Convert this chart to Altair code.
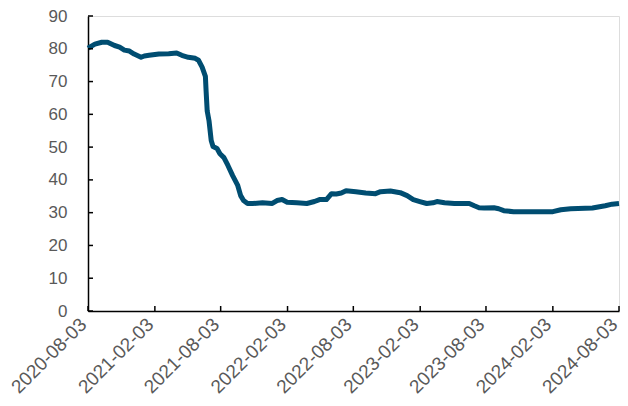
import altair as alt
import pandas as pd

dates = [
    "2020-08-03", "2020-08-22", "2020-09-10", "2020-09-26", "2020-10-15", "2020-10-29",
    "2020-11-11", "2020-11-25", "2020-12-08", "2020-12-27", "2021-01-05", "2021-01-18",
    "2021-02-14", "2021-03-13", "2021-04-04", "2021-04-18", "2021-05-06", "2021-05-25",
    "2021-06-03", "2021-06-13", "2021-06-22", "2021-06-24", "2021-06-27", "2021-07-02",
    "2021-07-08", "2021-07-13", "2021-07-24", "2021-08-01", "2021-08-12", "2021-08-23",
    "2021-09-05", "2021-09-19", "2021-09-27", "2021-10-05", "2021-10-16", "2021-10-30",
    "2021-11-26", "2021-12-23", "2022-01-05", "2022-01-19", "2022-02-02", "2022-03-01",
    "2022-03-28", "2022-04-18", "2022-05-02", "2022-05-21", "2022-06-04", "2022-06-17",
    "2022-07-01", "2022-07-14", "2022-08-10", "2022-09-06", "2022-10-03", "2022-10-17",
    "2022-11-13", "2022-12-10", "2022-12-29", "2023-01-15", "2023-02-02", "2023-02-21",
    "2023-03-10", "2023-03-21", "2023-04-11", "2023-05-08", "2023-06-18", "2023-07-02",
    "2023-07-15", "2023-07-29", "2023-08-25", "2023-09-07", "2023-09-21", "2023-10-18",
    "2023-12-11", "2024-02-03", "2024-02-25", "2024-03-23", "2024-05-22", "2024-06-26",
    "2024-07-15", "2024-08-03",
]
values = [
    80.2, 81.4, 82.0, 82.0, 81.0, 80.5,
    79.6, 79.3, 78.4, 77.4, 77.8, 78.0,
    78.4, 78.5, 78.7, 78.0, 77.4, 77.1,
    76.5, 74.4, 71.6, 67.0, 61.0, 58.0,
    52.0, 50.2, 49.6, 48.0, 46.8, 44.4,
    41.3, 38.3, 35.2, 33.7, 32.8, 32.8,
    33.0, 32.8, 33.7, 34.0, 33.2, 33.0,
    32.8, 33.4, 34.0, 34.0, 35.8, 35.7,
    36.0, 36.7, 36.4, 36.0, 35.8, 36.4,
    36.6, 36.1, 35.2, 34.0, 33.4, 32.8,
    33.0, 33.4, 33.0, 32.8, 32.8, 32.1,
    31.5, 31.4, 31.5, 31.2, 30.6, 30.3,
    30.3, 30.3, 30.9, 31.2, 31.4, 32.1,
    32.6, 32.8,
]
x_ticks = ["2020-08-03", "2021-02-03", "2021-08-03", "2022-02-03", "2022-08-03",
           "2023-02-03", "2023-08-03", "2024-02-03", "2024-08-03"]
y_ticks = [0, 10, 20, 30, 40, 50, 60, 70, 80, 90]

W, H = 531, 295
FONT = "Liberation Sans"
GREY = "#595959"


def dt(s):
    y, m, d = (int(p) for p in s.split("-"))
    return alt.DateTime(year=y, month=m, date=d, utc=True)


df = pd.DataFrame({"date": dates, "value": values})
xt = pd.DataFrame({"date": x_ticks})
yt = pd.DataFrame({"value": y_ticks})

xscale = alt.Scale(type="utc", domain=[dt(x_ticks[0]), dt(x_ticks[-1])], nice=False)
yscale = alt.Scale(domain=[0, 90], nice=False, zero=True)

xaxis = alt.Axis(
    values=[dt(s) for s in x_ticks],
    labelExpr="utcFormat(datum.value, '%Y-%m-%d')",
    labelAngle=-45, labelAlign="right", labelBaseline="middle", labelPadding=10,
    labelOffset=-5,
    labelOverlap=False, labelFlush=False, labelBound=False,
    ticks=False, grid=False, domainColor="black", domainWidth=1.5,
    labelFont=FONT, labelFontSize=19, labelColor=GREY, title=None,
)
yaxis = alt.Axis(
    values=y_ticks, ticks=False, grid=False, domainColor="black", domainWidth=1.5,
    labelOverlap=False, labelFlush=False, labelBound=False,
    labelFont=FONT, labelFontSize=17, labelColor=GREY, labelPadding=21, title=None,
)

line = alt.Chart(df).mark_line(color="#004D71", strokeWidth=5, strokeJoin="round").encode(
    x=alt.X("date:T", scale=xscale, axis=xaxis),
    y=alt.Y("value:Q", scale=yscale, axis=yaxis),
)

xtick = alt.Chart(xt).mark_rule(color="black", strokeWidth=1.5).encode(
    x=alt.X("date:T", scale=xscale, axis=xaxis),
    y=alt.value(H - 5), y2=alt.value(H),
)
ytick = alt.Chart(yt).mark_rule(color="black", strokeWidth=1.5).encode(
    y=alt.Y("value:Q", scale=yscale, axis=yaxis),
    x=alt.value(0), x2=alt.value(5),
)

chart = alt.layer(line, xtick, ytick).properties(
    width=W, height=H,
    autosize=alt.AutoSizeParams(type="none"),
    padding={"left": 80, "top": 8, "right": 1, "bottom": 94},
).configure_view(stroke=None).configure(background="white")

chart.save("out.html", embed_options={"renderer": "svg", "actions": False})
